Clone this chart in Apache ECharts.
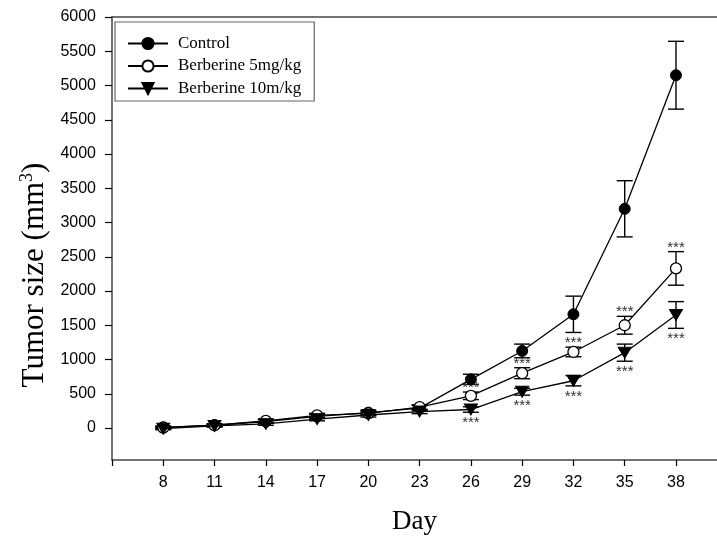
<!DOCTYPE html>
<html>
<head>
<meta charset="utf-8">
<script src="https://cdn.jsdelivr.net/npm/echarts@6/dist/echarts.min.js"></script>
<style>
html,body{margin:0;padding:0;background:#fff;}
#chart{width:717px;height:543px;}
</style>
</head>
<body>
<div id="chart"></div>
<script>
const days = [8, 11, 14, 17, 20, 23, 26, 29, 32, 35, 38];
const controlMean = [10, 40, 95, 170, 225, 290, 710, 1125, 1660, 3200, 5150];
const controlErr  = [20, 20, 25, 30, 35, 40, 75, 100, 265, 410, 495];
const ber5Mean = [5, 40, 105, 185, 215, 305, 470, 800, 1110, 1500, 2330];
const ber5Err  = [15, 20, 25, 30, 30, 35, 55, 80, 70, 130, 245];
const ber10Mean = [-10, 30, 60, 130, 190, 240, 270, 530, 690, 1100, 1650];
const ber10Err  = [15, 15, 20, 25, 30, 30, 40, 50, 75, 125, 195];
const sig5  = ['', '', '', '', '', '', '***', '***', '***', '***', '***'];
const sig10 = ['', '', '', '', '', '', '***', '***', '***', '***', '***'];
const seriesNames = ['Control', 'Berberine 5mg/kg', 'Berberine 10m/kg'];
const xTicks = [5, 8, 11, 14, 17, 20, 23, 26, 29, 32, 35, 38];
const xLabels = [8, 11, 14, 17, 20, 23, 26, 29, 32, 35, 38];
const yTicks = [0, 500, 1000, 1500, 2000, 2500, 3000, 3500, 4000, 4500, 5000, 5500, 6000];

const chart = echarts.init(document.getElementById('chart'), null, {renderer: 'canvas'});

function pairs(mean) { return days.map((d, i) => [d, mean[i]]); }
function errData(mean, err) { return days.map((d, i) => [d, mean[i], err[i]]); }

function errRender(sig, pos) {
  return function (params, api) {
    const x = api.value(0), m = api.value(1), e = api.value(2);
    const top = api.coord([x, m + e]);
    const bot = api.coord([x, m - e]);
    const hw = 8;
    const st = {stroke: '#000', lineWidth: 1.4};
    const children = [
      {type: 'line', shape: {x1: top[0], y1: top[1], x2: bot[0], y2: bot[1]}, style: st},
      {type: 'line', shape: {x1: top[0] - hw, y1: top[1], x2: top[0] + hw, y2: top[1]}, style: st},
      {type: 'line', shape: {x1: bot[0] - hw, y1: bot[1], x2: bot[0] + hw, y2: bot[1]}, style: st}
    ];
    const s = sig ? sig[params.dataIndex] : '';
    if (s) {
      const y = pos === 'above' ? top[1] - 4 : bot[1] + 11;
      children.push({type: 'text', style: {text: s, x: top[0], y: y, align: 'center', verticalAlign: 'middle',
        font: '15px "Liberation Sans", Arial, sans-serif', fill: '#333'}});
    }
    return {type: 'group', children: children};
  };
}

const lineStyle = {color: '#000', width: 1.3};
const axisLineStyle = {color: '#444', width: 1.5};

chart.setOption({
  animation: false,
  backgroundColor: '#fff',
  grid: {left: 112, top: 17, right: 0, bottom: 83, containLabel: false},
  legend: {
    data: seriesNames,
    orient: 'vertical',
    left: 115, top: 22,
    itemWidth: 40, itemHeight: 14, itemGap: 5.5,
    padding: [13, 13, 4, 12],
    backgroundColor: '#fff',
    borderColor: '#666', borderWidth: 1.2, borderRadius: 0,
    textStyle: {fontFamily: '"Liberation Serif", "Times New Roman", serif', fontSize: 17, color: '#000', padding: [0, 0, 0, 5]}
  },
  xAxis: [{
    type: 'value', min: 5, max: 40.4,
    name: 'Day', nameLocation: 'middle', nameGap: 48,
    nameTextStyle: {fontFamily: '"Liberation Serif", "Times New Roman", serif', fontSize: 27, color: '#000'},
    axisLine: {show: true, lineStyle: axisLineStyle, onZero: false},
    axisTick: {show: true, inside: false, length: 6, lineStyle: {color: '#000', width: 1.2}, customValues: xTicks},
    axisLabel: {show: true, margin: 15, customValues: xLabels, formatter: v => String(v),
      fontFamily: '"Liberation Sans", Arial, sans-serif', fontSize: 16, color: '#000'},
    splitLine: {show: false}
  }, {
    type: 'value', min: 5, max: 40.4, position: 'top',
    axisLine: {show: true, lineStyle: axisLineStyle, onZero: false},
    axisTick: {show: false}, axisLabel: {show: false}, splitLine: {show: false}
  }],
  yAxis: {
    type: 'value', min: -467, max: 6000,
    axisLine: {show: true, lineStyle: axisLineStyle, onZero: false},
    axisTick: {show: true, inside: false, length: 7, lineStyle: {color: '#000', width: 1.2}, customValues: yTicks},
    axisLabel: {show: true, margin: 16, customValues: yTicks, formatter: v => String(v),
      fontFamily: '"Liberation Sans", Arial, sans-serif', fontSize: 16, color: '#000'},
    splitLine: {show: false}
  },
  graphic: [{
    type: 'text', x: 35, y: 275, rotation: Math.PI / 2,
    style: {
      text: 'Tumor size (mm{sup|3})',
      align: 'center', verticalAlign: 'middle',
      font: '31px "Liberation Serif", "Times New Roman", serif', fill: '#000',
      rich: {sup: {fontSize: 18, verticalAlign: 'top', padding: [0, 0, 16, 0], fontFamily: '"Liberation Serif", serif'}}
    }
  }],
  series: [
    {type: 'custom', name: 'errC', renderItem: errRender(null, 'above'), data: errData(controlMean, controlErr), z: 3, silent: true},
    {type: 'custom', name: 'err5', renderItem: errRender(sig5, 'above'), data: errData(ber5Mean, ber5Err), z: 3, silent: true},
    {type: 'custom', name: 'err10', renderItem: errRender(sig10, 'below'), data: errData(ber10Mean, ber10Err), z: 3, silent: true},
    {type: 'line', name: seriesNames[0], data: pairs(controlMean), symbol: 'circle', symbolSize: 11,
      itemStyle: {color: '#000', borderColor: '#000', borderWidth: 1}, lineStyle: lineStyle, z: 4},
    {type: 'line', name: seriesNames[1], data: pairs(ber5Mean), symbol: 'circle', symbolSize: 11,
      itemStyle: {color: '#fff', borderColor: '#000', borderWidth: 1.3}, lineStyle: lineStyle, z: 5},
    {type: 'line', name: seriesNames[2], data: pairs(ber10Mean), symbol: 'triangle', symbolSize: [13, 11], symbolRotate: 180,
      itemStyle: {color: '#000', borderColor: '#000', borderWidth: 1}, lineStyle: lineStyle, z: 6}
  ]
});
</script>
</body>
</html>
